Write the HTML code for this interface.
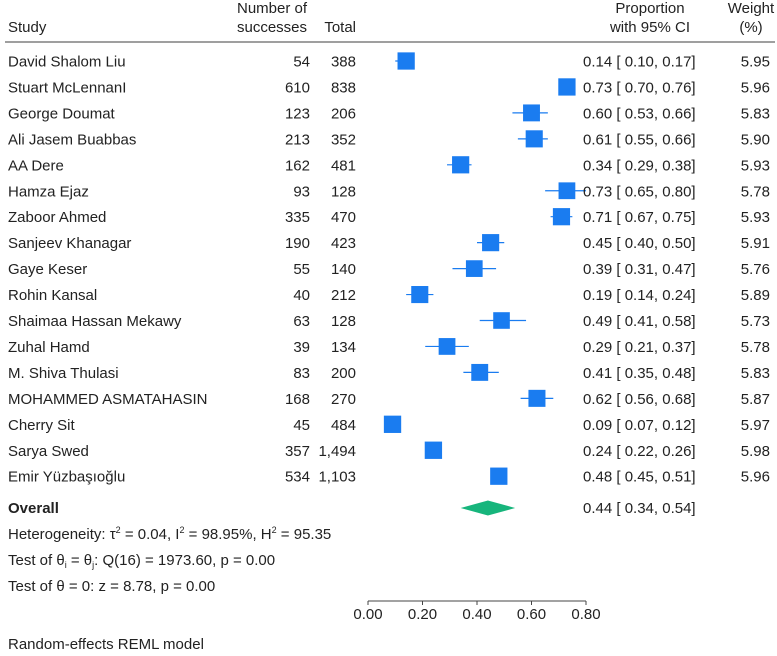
<!DOCTYPE html>
<html><head><meta charset="utf-8"><style>
body{margin:0;background:#fff;}
svg text{font-family:"Liberation Sans",sans-serif;font-size:15px;fill:#222;}
</style></head><body>
<svg id="chart" width="777" height="651" viewBox="0 0 777 651" xmlns="http://www.w3.org/2000/svg">
<g>
<text x="8" y="32">Study</text>
<text x="272" y="13" text-anchor="middle">Number of</text>
<text x="272" y="32" text-anchor="middle">successes</text>
<text x="356" y="32" text-anchor="end">Total</text>
<text x="650" y="13" text-anchor="middle">Proportion</text>
<text x="650" y="32" text-anchor="middle">with 95% CI</text>
<text x="751" y="13" text-anchor="middle">Weight</text>
<text x="751" y="32" text-anchor="middle">(%)</text>
<line x1="5" y1="42" x2="775" y2="42" stroke="#666" stroke-width="1.2"/>
</g>
<g id="rows"></g>
<g id="axis"></g>
<text x="8" y="513" font-weight="bold">Overall</text>
<text x="583" y="513">0.44 [ 0.34,  0.54]</text>
<text x="8" y="539">Heterogeneity: τ<tspan dy="-6" font-size="9">2</tspan><tspan dy="6"> = 0.04, I</tspan><tspan dy="-6" font-size="9">2</tspan><tspan dy="6"> = 98.95%, H</tspan><tspan dy="-6" font-size="9">2</tspan><tspan dy="6"> = 95.35</tspan></text>
<text x="8" y="565">Test of θ<tspan dy="3" font-size="9">i</tspan><tspan dy="-3"> = θ</tspan><tspan dy="3" font-size="9">j</tspan><tspan dy="-3">: Q(16) = 1973.60, p = 0.00</tspan></text>
<text x="8" y="591">Test of θ = 0: z = 8.78, p = 0.00</text>
<text x="8" y="649">Random-effects REML model</text>
</svg>
<script>
const studies=["David Shalom Liu","Stuart McLennanI","George Doumat","Ali Jasem Buabbas","AA Dere","Hamza Ejaz","Zaboor Ahmed","Sanjeev Khanagar","Gaye Keser","Rohin Kansal","Shaimaa Hassan Mekawy","Zuhal Hamd","M. Shiva Thulasi","MOHAMMED ASMATAHASIN","Cherry Sit","Sarya Swed","Emir Yüzbaşıoğlu"];
const successes=["54","610","123","213","162","93","335","190","55","40","63","39","83","168","45","357","534"];
const totals=["388","838","206","352","481","128","470","423","140","212","128","134","200","270","484","1,494","1,103"];
const props=[0.14,0.73,0.60,0.61,0.34,0.73,0.71,0.45,0.39,0.19,0.49,0.29,0.41,0.62,0.09,0.24,0.48];
const lows=[0.10,0.70,0.53,0.55,0.29,0.65,0.67,0.40,0.31,0.14,0.41,0.21,0.35,0.56,0.07,0.22,0.45];
const highs=[0.17,0.76,0.66,0.66,0.38,0.80,0.75,0.50,0.47,0.24,0.58,0.37,0.48,0.68,0.12,0.26,0.51];
const weights=[5.95,5.96,5.83,5.90,5.93,5.78,5.93,5.91,5.76,5.89,5.73,5.78,5.83,5.87,5.97,5.98,5.96];
const overall=[0.44,0.34,0.54];
const ticks=[0,0.2,0.4,0.6,0.8];
const NS="http://www.w3.org/2000/svg";
const x=v=>368+v*272.5;
const y=i=>61+i*25.95;
function mk(tag,attrs,parent,txt){const e=document.createElementNS(NS,tag);for(const k in attrs)e.setAttribute(k,attrs[k]);if(txt!==undefined)e.textContent=txt;parent.appendChild(e);return e;}
const rows=document.getElementById('rows');
const f=v=>v.toFixed(2);
studies.forEach((s,i)=>{
 const g=mk('g',{},rows);
 
 
 const yy=y(i);
 let t=mk('text',{x:8,y:yy+5.5},g,s);
 
 t=mk('text',{x:310,y:yy+5.5,'text-anchor':'end'},g,successes[i]);
 
 t=mk('text',{x:356,y:yy+5.5,'text-anchor':'end'},g,totals[i]);
 
 const l=mk('line',{x1:x(lows[i]),x2:x(highs[i]),y1:yy,y2:yy,stroke:'#1a7cf0','stroke-width':1.2},g);
 
 const sz=weights[i]*2.9;
 const r=mk('rect',{x:x(props[i])-sz/2,y:yy-sz/2,width:sz,height:sz,fill:'#1a7cf0'},g);
 
 t=mk('text',{x:583,y:yy+5.5},g,f(props[i])+' [ '+f(lows[i])+',  '+f(highs[i])+']');
 
 t=mk('text',{x:770,y:yy+5.5,'text-anchor':'end'},g,f(weights[i]));
 
});
const d=mk('polygon',{points:`${x(overall[1])},508 ${x(overall[0])},500.5 ${x(overall[2])},508 ${x(overall[0])},515.5`,fill:'#17b57c'},rows);


const ax=document.getElementById('axis');
const al=mk('line',{x1:x(ticks[0]),x2:x(ticks[ticks.length-1]),y1:601,y2:601,stroke:'#444'},ax);


ticks.forEach(v=>{
 const tk=mk('line',{x1:x(v),x2:x(v),y1:601,y2:605,stroke:'#444'},ax);
 
 const tl=mk('text',{x:x(v),y:619,'text-anchor':'middle'},ax,v.toFixed(2));
 
});
</script>
</body></html>
